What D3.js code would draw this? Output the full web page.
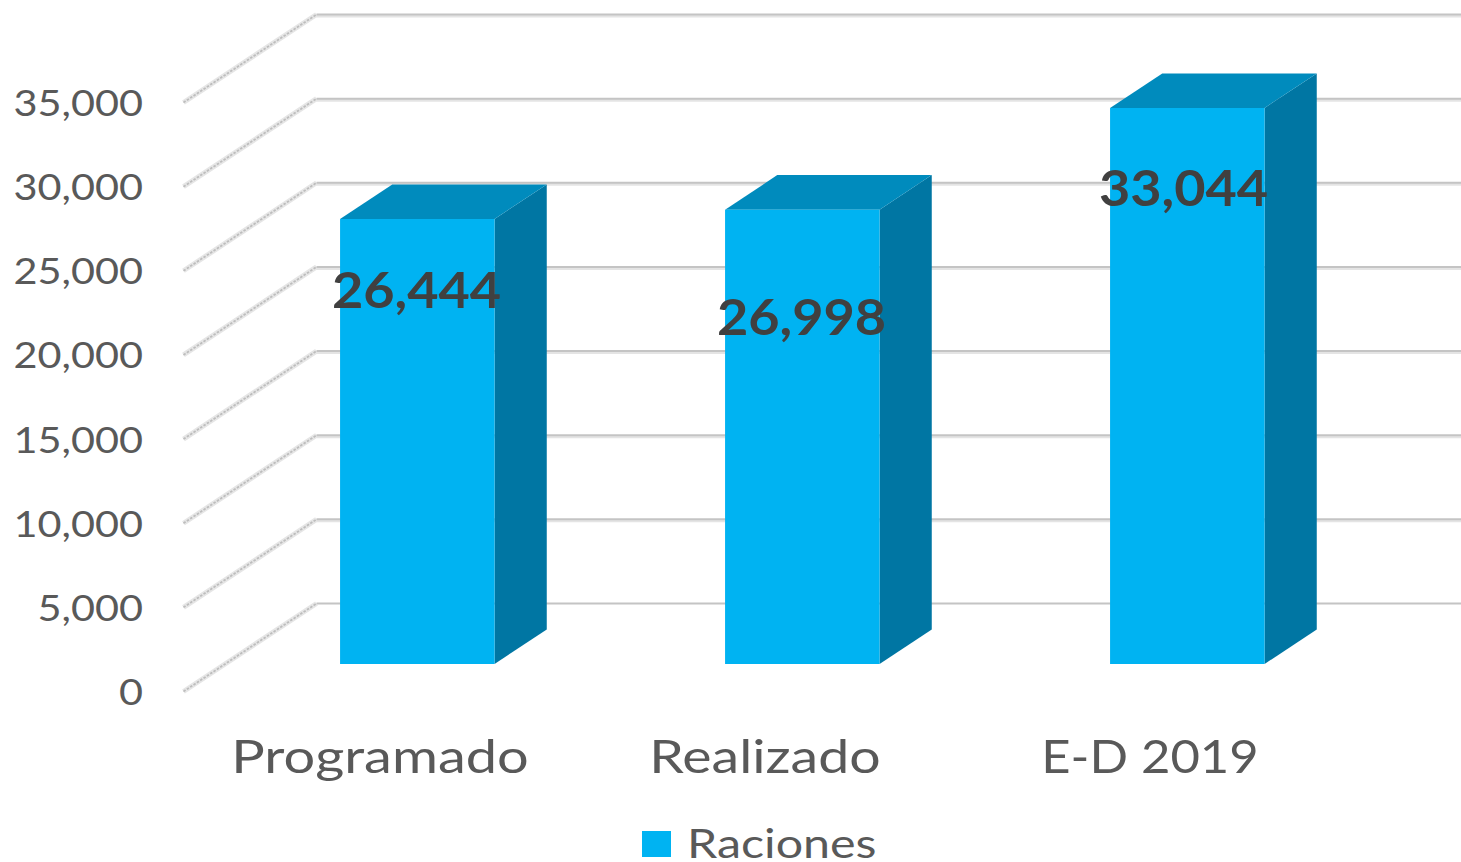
<!DOCTYPE html>
<html><head><meta charset="utf-8">
<script src="https://cdn.jsdelivr.net/npm/d3@7"></script>
<style>html,body{margin:0;padding:0;background:#fff;overflow:hidden}svg{display:block}text{font-family:Lato,sans-serif}</style>
</head><body><svg id="c" width="1461" height="862"></svg>
<script>
const categories = ["Programado","Realizado","E-D 2019"];
const raciones = [26444,26998,33044];
const valueLabels = ["26,444","26,998","33,044"];
const yTicks = [0,5000,10000,15000,20000,25000,30000,35000];
const seriesName = "Raciones";

const svg = d3.select("#c");
const W = 1461;
const x = d3.scaleBand().domain(categories).range([183.5,1338.5]).paddingInner(0.6).paddingOuter(0.3);
const y = d3.scaleLinear().domain([0,35000]).range([691.5,102.5]);
// oblique depth projection: 0 = front of floor, 1 = back wall
const depthX = d3.scaleLinear().domain([0,1]).range([0,133]);
const depthY = d3.scaleLinear().domain([0,1]).range([0,-88]);
const barFront = 0.3125, barBack = 0.7;
const P = (px,py,d)=>[px+depthX(d), py+depthY(d)];
const path = pts => "M"+pts.map(p=>p.join(",")).join("L")+"Z";

// grid
const g = svg.append("g");
yTicks.forEach(t=>{
  const a=P(x.range()[0],y(t),0), b=P(x.range()[0],y(t),1);
  g.append("line").attr("x1",a[0]).attr("y1",a[1]).attr("x2",b[0]).attr("y2",b[1])
    .attr("stroke","#e6e6e6").attr("stroke-width",5);
  g.append("line").attr("x1",a[0]).attr("y1",a[1]).attr("x2",b[0]).attr("y2",b[1])
    .attr("stroke","#bdbdbd").attr("stroke-width",1.8).attr("stroke-dasharray","2.5 1.5");
  if (t > 0) g.append("line").attr("x1",b[0]).attr("y1",b[1]+1.5).attr("x2",W).attr("y2",b[1]+1.5)
    .attr("stroke","#e4e4e4").attr("stroke-width",3);
  g.append("line").attr("x1",b[0]).attr("y1",b[1]).attr("x2",W).attr("y2",b[1])
    .attr("stroke","#c4c4c4").attr("stroke-width",2);
});

// bars
const bars = svg.append("g");
const sideDepth = barBack-barFront+0.005;
categories.forEach((c,i)=>{
  const x0=x(c)-0.5, x1=x0+x.bandwidth()+0.5, yt=y(raciones[i]), yb=y(0);
  const f=(px,py,dd)=>P(px,py,barFront+dd);
  bars.append("path").attr("d",path([f(x1,yt,0),f(x1,yt,sideDepth),f(x1,yb,sideDepth),f(x1,yb,0)])).attr("fill","#0076a3");
  bars.append("path").attr("d",path([f(x0,yt,0),f(x0,yt,sideDepth),f(x1,yt,sideDepth),f(x1,yt,0)])).attr("fill","#008bbd");
  bars.append("path").attr("d",path([f(x0,yt,0),f(x1,yt,0),f(x1,yb,0),f(x0,yb,0)])).attr("fill","#00b3f2");
});

// y labels
svg.append("g").selectAll("text").data(yTicks).join("text")
  .attr("transform",d=>`translate(143,${y(d)+13.5}) scale(1.12,1)`).attr("text-anchor","end")
  .attr("font-size",37).attr("fill","#595959")
  .text(d3.format(","));

// category labels
const catStretch = [1.19,1.18,1.08];
svg.append("g").selectAll("text").data(categories).join("text")
  .attr("transform",(c,i)=>`translate(${x(c)+x.bandwidth()/2+4},773) scale(${catStretch[i]},1)`)
  .attr("text-anchor","middle")
  .attr("font-size",47).attr("fill","#595959").text(c=>c);

// value labels
const labelDrop = [71,107,80], labelShift = [-1,-1,-4];
svg.append("g").selectAll("text").data(categories).join("text")
  .attr("transform",(c,i)=>{
    const [lx,ly]=P(x(c)+x.bandwidth()/2,y(raciones[i]),barFront);
    return `translate(${lx+labelShift[i]},${ly+labelDrop[i]+18}) scale(1.08,1)`;
  })
  .attr("text-anchor","middle").attr("font-size",50).attr("font-weight",700)
  .attr("fill","#404040").text((c,i)=>valueLabels[i]);

// legend
svg.append("rect").attr("x",642).attr("y",831).attr("width",29).attr("height",26).attr("fill","#00b3f2");
svg.append("text").attr("transform","translate(687,858) scale(1.18,1)").attr("font-size",41).attr("fill","#595959").text(seriesName);
</script></body></html>
